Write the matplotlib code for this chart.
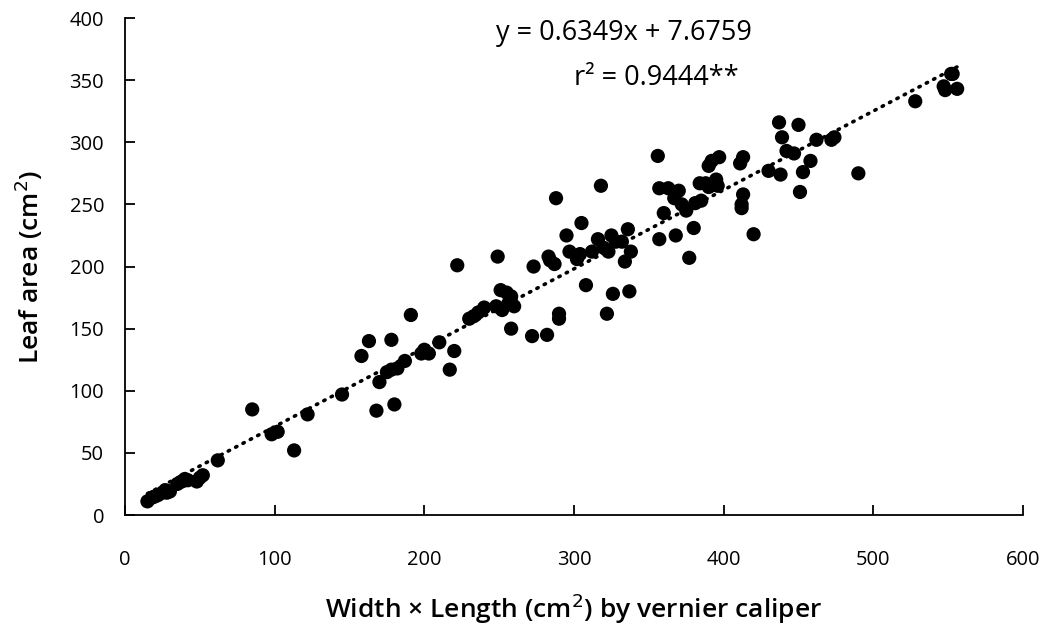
import numpy as np
import matplotlib
matplotlib.use("Agg")
import matplotlib.pyplot as plt

# Width x length measured with vernier caliper (cm^2) and measured leaf area (cm^2)
wl = [15, 18, 20, 22, 25, 27, 28, 30, 35, 38, 40, 42, 48, 50, 52, 62, 85, 98, 102, 113,
      122, 145, 158, 163, 168, 170, 175, 178, 178, 180, 182, 187, 191, 198, 200, 203, 210,
      217, 220, 222, 230, 233, 236, 240, 248, 249, 251, 252, 255, 256, 258, 258, 260, 272,
      273, 282, 283, 284, 287, 288, 290, 290, 295, 297, 302, 304, 305, 308, 312, 316, 318,
      320, 322, 323, 325, 326, 328, 332, 334, 336, 337, 338, 356, 357, 357, 360, 363, 367,
      368, 370, 372, 375, 377, 380, 381, 384, 385, 388, 390, 390, 392, 395, 396, 397, 411,
      412, 412, 413, 413, 420, 430, 437, 438, 439, 442, 447, 450, 451, 453, 458, 462, 472,
      474, 490, 528, 547, 548, 552, 553, 556]
leaf_area = [11, 14, 15, 16, 18, 20, 18, 19, 25, 27, 29, 28, 27, 30, 32, 44, 85, 65, 67, 52,
             81, 97, 128, 140, 84, 107, 115, 117, 141, 89, 118, 124, 161, 130, 133, 130, 139,
             117, 132, 201, 158, 160, 163, 167, 168, 208, 181, 165, 179, 170, 150, 176, 168, 144,
             200, 145, 208, 205, 202, 255, 158, 162, 225, 212, 206, 210, 235, 185, 212, 222, 265,
             215, 162, 212, 225, 178, 220, 220, 204, 230, 180, 212, 289, 263, 222, 243, 263, 255,
             225, 261, 250, 245, 207, 231, 251, 267, 253, 267, 264, 281, 285, 270, 265, 288, 283,
             250, 247, 258, 288, 226, 277, 316, 274, 304, 293, 291, 314, 260, 276, 285, 302, 302,
             304, 275, 333, 345, 342, 355, 355, 343]

slope = 0.6349
intercept = 7.6759
r2 = 0.9444

x_ticks = [0, 100, 200, 300, 400, 500, 600]
y_ticks = [0, 50, 100, 150, 200, 250, 300, 350, 400]

plt.rcParams['font.family'] = ['Open Sans', 'DejaVu Sans']

fig = plt.figure(figsize=(10.53, 6.30), dpi=100)
ax = fig.add_axes([0.1187, 0.1825, 0.8528, 0.7889])

ax.scatter(wl, leaf_area, s=105, color='black', edgecolors='none', zorder=3)

xs = np.array([min(wl), max(wl)])
ax.plot(xs, slope * xs + intercept, color='black', linewidth=2.6,
        linestyle=(0, (0.4, 1.9)), dash_capstyle='round', zorder=2)

ax.set_xlim(0, 600)
ax.set_ylim(0, 400)
ax.set_xticks(x_ticks)
ax.set_yticks(y_ticks)
ax.tick_params(direction='in', length=7, width=1.3, labelsize=14.5, colors='black')
ax.tick_params(axis='y', pad=15)
ax.tick_params(axis='x', pad=25)
for side in ['top', 'right']:
    ax.spines[side].set_visible(False)
for side in ['left', 'bottom']:
    ax.spines[side].set_linewidth(1.3)

ax.set_xlabel('Width × Length (cm$^2$) by vernier caliper', fontsize=19,
              fontweight='semibold', labelpad=16)
ax.set_ylabel('Leaf area (cm$^2$)', fontsize=19, fontweight='semibold', labelpad=18)

ax.text(0.556, 0.970, f'y = {slope:.4f}x + {intercept:.4f}', transform=ax.transAxes,
        ha='center', va='center', fontsize=19.5)
ax.text(0.592, 0.879, f'r² = {r2:.4f}**', transform=ax.transAxes,
        ha='center', va='center', fontsize=19.5)

fig.savefig('out.png', dpi=100)
